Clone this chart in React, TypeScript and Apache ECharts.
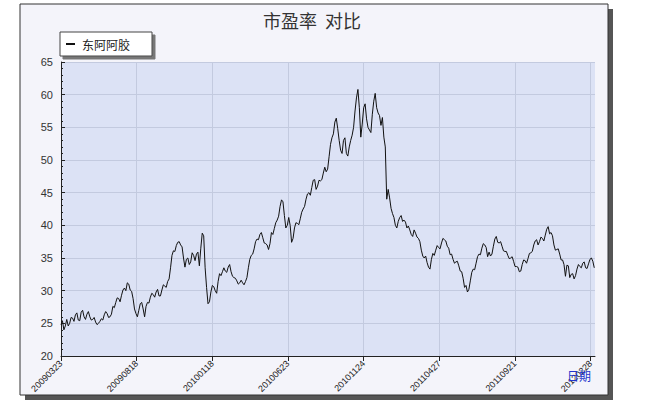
import React, { useEffect, useRef } from "react";
import * as echarts from "echarts";

const seriesName = "东阿阿胶";
const titleText = "市盈率  对比";
const axisName = "日期";
const tickLabels = ["20090323", "20090818", "20100118", "20100623", "20101124", "20110427", "20110921", "20120228"];
const daysPerTick = 105;
const dayStep = 4;
const lastDay = 741;
const yTicks = { min: 20, max: 65, interval: 5 };

// P/E read every 4 trading days
const pe = [
  24.8, 24.0, 25.6, 25.0, 25.8, 26.3, 25.5, 26.7, 26.0, 26.4,
  26.0, 25.6, 25.2, 25.0, 25.7, 26.3, 26.5, 26.0, 27.6, 28.2,
  28.8, 29.3, 30.4, 31.2, 30.1, 28.8, 26.5, 27.0, 28.2, 26.0,
  28.2, 29.0, 29.4, 29.8, 29.2, 30.1, 30.7, 31.4, 33.5, 36.1,
  36.9, 37.5, 36.7, 33.6, 35.0, 34.4, 35.4, 35.6, 33.8, 38.8,
  33.5, 28.0, 29.8, 30.6, 29.6, 32.6, 32.9, 33.0, 33.6, 32.9,
  32.0, 31.5, 31.2, 31.2, 31.4, 33.5, 35.4, 36.4, 37.9, 38.6,
  38.1, 37.2, 36.3, 38.9, 39.5, 40.8, 42.9, 43.6, 39.6, 41.2,
  37.4, 39.6, 40.3, 41.0, 42.5, 44.0, 45.0, 45.8, 47.0, 46.0,
  46.8, 48.0, 48.2, 50.5, 53.4, 55.8, 54.8, 51.5, 53.0, 51.0,
  52.0, 53.8, 57.5, 60.8, 53.5, 58.0, 56.3, 54.6, 57.0, 60.2,
  57.2, 55.3, 53.5, 44.0, 44.2, 41.8, 40.0, 40.6, 41.5, 40.8,
  39.6, 39.3, 38.3, 38.8, 38.0, 36.2, 35.0, 34.3, 33.3, 35.7,
  36.2, 36.6, 37.3, 37.8, 36.8, 35.5, 34.8, 34.4, 33.8, 32.9,
  30.5, 29.8, 31.5, 33.3, 34.2, 35.6, 36.5, 37.0, 35.2, 35.3,
  36.8, 38.3, 37.3, 36.8, 36.0, 35.4, 35.0, 34.5, 33.7, 32.9,
  34.0, 34.6, 34.9, 35.8, 37.0, 37.8, 37.5, 38.0, 38.5, 39.8,
  38.9, 37.0, 36.3, 35.6, 34.7, 32.2, 33.8, 32.5, 31.8, 33.3,
  33.7, 34.2, 33.5, 34.1, 35.0, 33.5,
];

// P/E read half-way between the readings above (2 trading days later)
const peMid = [
  25.4, 24.6, 24.6, 25.9, 25.3, 26.6, 25.4, 27.0, 25.6, 26.8,
  25.5, 25.9, 24.8, 25.3, 25.5, 26.8, 25.9, 26.4, 27.4, 28.9,
  28.3, 30.1, 30.0, 31.0, 29.9, 27.2, 26.0, 28.0, 27.2, 27.6,
  28.1, 29.6, 29.0, 30.2, 29.2, 30.9, 30.5, 31.8, 35.4, 36.0,
  37.4, 37.0, 35.0, 34.8, 34.0, 35.8, 34.6, 35.9, 36.5, 38.4,
  30.5, 28.3, 30.8, 30.0, 31.4, 32.3, 33.5, 32.8, 34.0, 32.2,
  31.9, 31.0, 31.6, 30.9, 32.0, 34.8, 35.6, 37.5, 37.8, 38.9,
  37.3, 37.0, 37.2, 38.6, 40.4, 41.4, 43.9, 41.5, 40.0, 40.0,
  38.0, 40.4, 40.1, 42.0, 42.9, 44.8, 44.6, 46.9, 45.5, 46.9,
  47.0, 48.9, 48.6, 52.4, 54.0, 56.4, 53.0, 51.0, 53.4, 50.6,
  53.0, 55.0, 59.5, 58.0, 55.5, 58.6, 55.0, 54.2, 59.0, 58.0,
  56.8, 56.5, 52.0, 45.5, 42.6, 41.2, 39.6, 41.2, 40.6, 40.5,
  39.9, 38.6, 39.3, 38.2, 37.5, 35.3, 35.3, 33.6, 34.8, 35.4,
  36.9, 36.4, 38.0, 37.6, 36.5, 35.6, 34.2, 34.5, 33.0, 31.9,
  30.8, 30.2, 32.8, 33.2, 35.2, 35.5, 37.2, 36.6, 35.9, 35.6,
  37.9, 37.4, 37.5, 36.1, 36.0, 34.9, 35.2, 33.7, 33.6, 33.0,
  34.7, 34.2, 35.7, 36.0, 37.6, 37.0, 38.2, 37.6, 39.4, 38.7,
  38.4, 36.2, 36.4, 34.7, 34.0, 33.9, 32.0, 32.6, 32.3, 34.0,
  33.5, 34.4, 33.4, 34.8, 34.5,
];

export default function App() {
  const ref = useRef<HTMLDivElement>(null);
  useEffect(() => {
    document.body.style.margin = "0";
    if (!ref.current) return;
    const chart = echarts.init(ref.current, undefined, { renderer: "svg" });
    const data: number[][] = [];
    pe.forEach((v, i) => {
      data.push([i * dayStep, v]);
      if (i < peMid.length) data.push([i * dayStep + dayStep / 2, peMid[i]]);
    });
    const tickValues = tickLabels.map((_, i) => i * daysPerTick);
    chart.setOption({
      animation: false,
      backgroundColor: "#ffffff",
      title: {
        text: titleText,
        left: 258,
        top: 6,
        textStyle: { fontFamily: "Noto Sans CJK SC", fontSize: 18, fontWeight: "normal", color: "#333" },
      },
      legend: {
        left: 60,
        top: 32,
        data: [seriesName],
        icon: "rect",
        itemWidth: 9,
        itemHeight: 2,
        itemGap: 4,
        padding: [6, 22, 6, 6],
        backgroundColor: "#ffffff",
        borderColor: "#444",
        borderWidth: 1,
        shadowColor: "#777",
        shadowOffsetX: 3,
        shadowOffsetY: 3,
        shadowBlur: 0,
        textStyle: { fontFamily: "Noto Sans CJK SC", fontSize: 12, color: "#222", padding: [0, 0, 0, 2] },
      },
      graphic: [
        { type: "rect", z: -20, shape: { x: 25, y: 9, width: 588, height: 391 }, style: { fill: "#555" } },
        { type: "rect", z: -10, shape: { x: 20, y: 4, width: 588, height: 391 }, style: { fill: "#f4f4fa", stroke: "#333", lineWidth: 1 } },
        { type: "text", z: 10, x: 567, y: 369, style: { text: axisName, fill: "#2233cc", font: "12px 'Noto Sans CJK SC'" } },
      ],
      grid: {
        left: 61,
        right: 59,
        top: 62,
        bottom: 55,
        show: true,
        backgroundColor: "#dce2f5",
        borderWidth: 0,
      },
      xAxis: {
        type: "value",
        min: 0,
        max: lastDay,
        interval: daysPerTick,
        axisLine: { lineStyle: { color: "#222", width: 1 } },
        axisTick: { show: true, length: 5, lineStyle: { color: "#222" }, customValues: tickValues },
        axisLabel: {
          rotate: 45,
          fontSize: 9,
          color: "#222",
          fontFamily: "Liberation Sans",
          margin: 6,
          customValues: tickValues,
          formatter: (v: number) => {
            const i = Math.round(v / daysPerTick);
            return Math.abs(v - i * daysPerTick) < 0.5 ? tickLabels[i] ?? "" : "";
          },
        },
        splitLine: { show: true, lineStyle: { color: "#c3cadf", width: 1 } },
      },
      yAxis: {
        type: "value",
        min: yTicks.min,
        max: yTicks.max,
        interval: yTicks.interval,
        axisLine: { show: true, lineStyle: { color: "#222", width: 1 } },
        axisTick: { show: true, inside: true, length: 4, lineStyle: { color: "#222" } },
        minorTick: { show: true, splitNumber: 5, length: 2, lineStyle: { color: "#222" } },
        axisLabel: { fontSize: 11, color: "#333", fontFamily: "Liberation Sans", margin: 8 },
        splitLine: { show: true, lineStyle: { color: "#c3cadf", width: 1 } },
      },
      series: [
        {
          name: seriesName,
          type: "line",
          data,
          showSymbol: false,
          symbol: "none",
          lineStyle: { color: "#111", width: 1 },
          itemStyle: { color: "#111" },
        },
      ],
    });
    return () => chart.dispose();
  }, []);
  return <div ref={ref} style={{ width: 654, height: 411 }} />;
}
